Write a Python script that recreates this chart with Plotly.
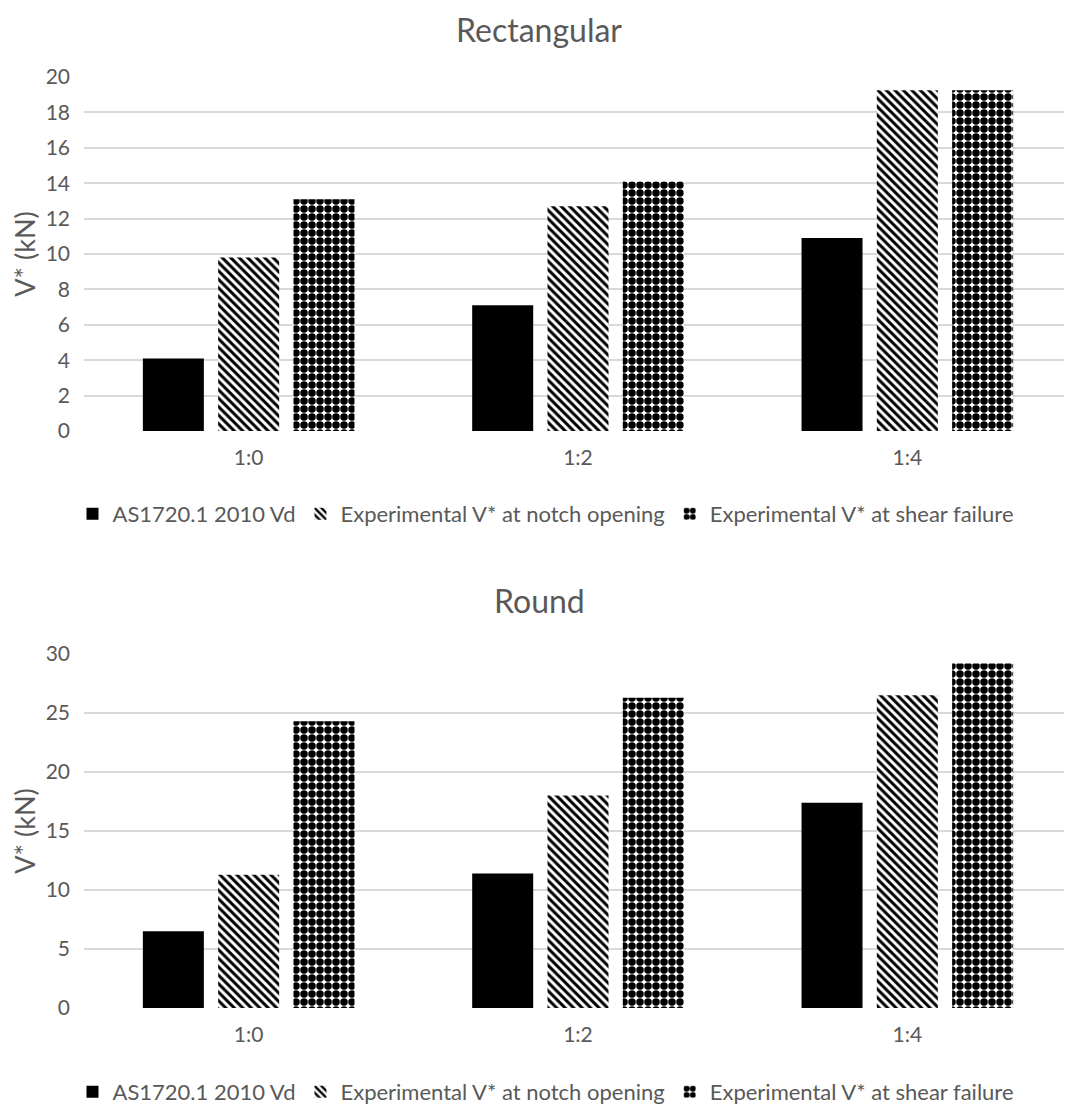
import plotly.graph_objects as go
from plotly.subplots import make_subplots

categories = ["1:0", "1:2", "1:4"]
series_names = ["AS1720.1 2010 Vd",
                "Experimental V* at notch opening",
                "Experimental V* at shear failure"]

rect_vd = [4.1, 7.1, 10.9]
rect_notch = [9.8, 12.7, 19.25]
rect_shear = [13.1, 14.1, 19.25]

round_vd = [6.5, 11.4, 17.4]
round_notch = [11.3, 18.0, 26.5]
round_shear = [24.3, 26.3, 29.2]

rect_ticks = [0, 2, 4, 6, 8, 10, 12, 14, 16, 18, 20]
round_ticks = [0, 5, 10, 15, 20, 25, 30]

# page has an 8px body margin, so the figure is 8px smaller than the window
W, H = 1064, 1098
L = 76
PW = W - L
FONT = "Lato"
GRAY = "#595959"
GRID = "#d9d9d9"

fig = make_subplots(rows=2, cols=1)

styles = [
    dict(color="black"),
    dict(color="white", pattern=dict(shape="\\", fgcolor="black", bgcolor="white", fgopacity=1,
                                     size=6, solidity=0.5, fillmode="replace")),
    dict(color="white", pattern=dict(shape=".", fgcolor="black", bgcolor="white", fgopacity=1,
                                     size=8, solidity=0.7, fillmode="replace")),
]

for i, (vals, name) in enumerate(zip([rect_vd, rect_notch, rect_shear], series_names)):
    fig.add_trace(go.Bar(x=categories, y=vals, name=name, marker=dict(**styles[i], line=dict(width=0)),
                         legend="legend"), row=1, col=1)
for i, (vals, name) in enumerate(zip([round_vd, round_notch, round_shear], series_names)):
    fig.add_trace(go.Bar(x=categories, y=vals, name=name, marker=dict(**styles[i], line=dict(width=0)),
                         legend="legend2"), row=2, col=1)

def ypx(top, bottom):
    return [1 - bottom / H, 1 - top / H]

axis_font = dict(family=FONT, size=21, color=GRAY)
title_font = dict(family=FONT, size=27, color=GRAY)
leg_font = dict(family=FONT, size=22, color=GRAY)

leg_x = (538 - L) / PW

xcommon = dict(domain=[0, 1], showgrid=False, ticks="", ticklabelstandoff=12,
               tickfont=axis_font, showline=False, zeroline=False)
ycommon = dict(gridcolor=GRID, gridwidth=1.5, zeroline=False, showline=False,
               tickfont=axis_font, ticklabelstandoff=13,
               title=dict(text="V* (kN)", font=title_font, standoff=10))

fig.update_layout(
    width=W, height=H,
    margin=dict(l=L, r=0, t=0, b=0, autoexpand=False),
    paper_bgcolor="white", plot_bgcolor="white",
    barmode="group", bargap=0.314, bargroupgap=0.19,
    font=dict(family=FONT, color=GRAY),
    xaxis=xcommon,
    xaxis2=xcommon,
    yaxis=dict(domain=ypx(69, 423), range=[0, 20], tickvals=rect_ticks, **ycommon),
    yaxis2=dict(domain=ypx(646, 1000), range=[0, 30], tickvals=round_ticks, **ycommon),
    legend=dict(orientation="h", x=leg_x, xanchor="center", y=1 - 506 / H, yanchor="middle",
                font=leg_font, bgcolor="rgba(0,0,0,0)", itemwidth=30),
    legend2=dict(orientation="h", x=leg_x, xanchor="center", y=1 - 1084 / H, yanchor="middle",
                 font=leg_font, bgcolor="rgba(0,0,0,0)", itemwidth=30),
    showlegend=True,
)

title_x = (531 - L) / PW
fig.add_annotation(text="Rectangular", xref="paper", yref="paper",
                   x=title_x, y=1, xanchor="center", yanchor="top", showarrow=False,
                   font=dict(family=FONT, size=32, color=GRAY))
fig.add_annotation(text="Round", xref="paper", yref="paper",
                   x=title_x, y=1 - 592 / H, xanchor="center", yanchor="middle", showarrow=False,
                   font=dict(family=FONT, size=32, color=GRAY))

fig.write_html("out.html")
